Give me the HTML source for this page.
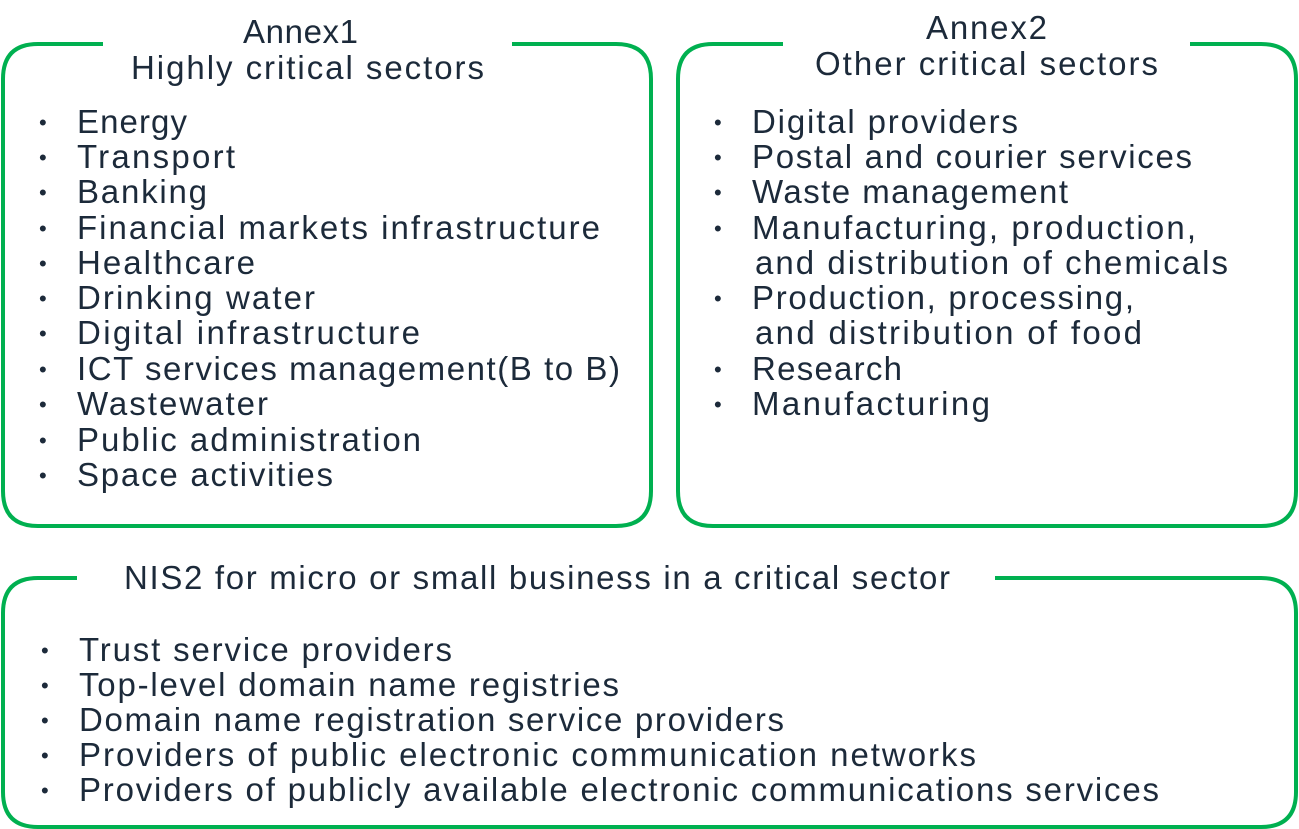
<!DOCTYPE html>
<html><head><meta charset="utf-8"><style>
html,body{margin:0;padding:0;background:#fff;}
svg{display:block}
text{font-family:"Liberation Sans","Noto Sans CJK JP",sans-serif;font-size:33px;fill:#1c2a3a}
.b{font-size:22px}
</style></head><body>
<svg width="1299" height="829" viewBox="0 0 1299 829" xmlns="http://www.w3.org/2000/svg">
<g fill="none" stroke="#00b050" stroke-width="4">
<path d="M103,44 H38 Q3,44 3,79 V491 Q3,526 38,526 H616 Q651,526 651,491 V79 Q651,44 616,44 H512"/>
<path d="M783,44 H713 Q678,44 678,79 V491 Q678,526 713,526 H1261 Q1296,526 1296,491 V79 Q1296,44 1261,44 H1190"/>
<path d="M77,578 H38 Q3,578 3,613 V792 Q3,827 38,827 H1261 Q1296,827 1296,792 V613 Q1296,578 1261,578 H995"/>
</g>
<text x="243" y="43" textLength="115">Annex1</text>
<text x="131" y="79" textLength="353">Highly critical sectors</text>
<text x="926" y="39" textLength="121">Annex2</text>
<text x="815" y="75" textLength="343">Other critical sectors</text>
<text x="124" y="589" textLength="826">NIS2 for micro or small business in a critical sector</text>
<g>
<text class="b" x="39" y="130">•</text><text x="77" y="133" textLength="110">Energy</text>
<text class="b" x="39" y="165">•</text><text x="77" y="168" textLength="158">Transport</text>
<text class="b" x="39" y="200">•</text><text x="77" y="203" textLength="130">Banking</text>
<text class="b" x="39" y="236">•</text><text x="77" y="239" textLength="523">Financial markets infrastructure</text>
<text class="b" x="39" y="271">•</text><text x="77" y="274" textLength="178">Healthcare</text>
<text class="b" x="39" y="306">•</text><text x="77" y="309" textLength="238">Drinking water</text>
<text class="b" x="39" y="341">•</text><text x="77" y="344" textLength="343">Digital infrastructure</text>
<text class="b" x="39" y="377">•</text><text x="77" y="380" textLength="543">ICT services management(B to B)</text>
<text class="b" x="39" y="412">•</text><text x="77" y="415" textLength="191">Wastewater</text>
<text class="b" x="39" y="448">•</text><text x="77" y="451" textLength="344">Public administration</text>
<text class="b" x="39" y="483">•</text><text x="77" y="486" textLength="256">Space activities</text>
</g>
<g>
<text class="b" x="714" y="130">•</text><text x="752" y="133" textLength="266">Digital providers</text>
<text class="b" x="714" y="165">•</text><text x="752" y="168" textLength="440">Postal and courier services</text>
<text class="b" x="714" y="200">•</text><text x="752" y="203" textLength="316">Waste management</text>
<text class="b" x="714" y="236">•</text><text x="752" y="239" textLength="444">Manufacturing, production,</text>
<text x="755" y="274" textLength="473">and distribution of chemicals</text>
<text class="b" x="714" y="306">•</text><text x="752" y="309" textLength="382">Production, processing,</text>
<text x="755" y="344" textLength="387">and distribution of food</text>
<text class="b" x="714" y="377">•</text><text x="752" y="380" textLength="150">Research</text>
<text class="b" x="714" y="412">•</text><text x="752" y="415" textLength="238">Manufacturing</text>
</g>
<g>
<text class="b" x="41" y="658">•</text><text x="79" y="661" textLength="373">Trust service providers</text>
<text class="b" x="41" y="693">•</text><text x="79" y="696" textLength="540">Top-level domain name registries</text>
<text class="b" x="41" y="728">•</text><text x="79" y="731" textLength="705">Domain name registration service providers</text>
<text class="b" x="41" y="763">•</text><text x="79" y="766" textLength="897">Providers of public electronic communication networks</text>
<text class="b" x="41" y="798">•</text><text x="79" y="801" textLength="1080">Providers of publicly available electronic communications services</text>
</g>
</svg>
</body></html>
